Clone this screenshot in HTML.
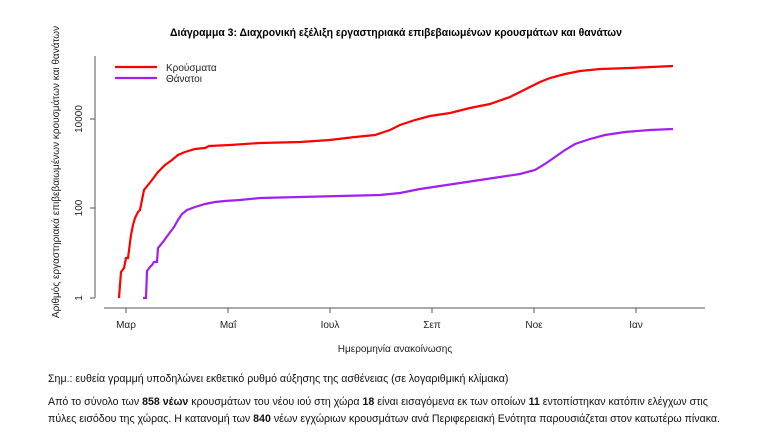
<!DOCTYPE html>
<html><head><meta charset="utf-8"><style>
body{margin:0;background:#fff;width:770px;height:433px;overflow:hidden;font-family:"Liberation Sans",sans-serif}
svg{position:absolute;left:0;top:0}
.n{position:absolute;left:48px;font-size:11px;color:#111;white-space:nowrap;transform-origin:0 0;transform:scaleX(0.965)}
</style></head><body>
<svg width="770" height="433" font-family="Liberation Sans, sans-serif">
<text x="396" y="36" text-anchor="middle" font-size="11" font-weight="bold" transform="translate(396 0) scale(0.95 1) translate(-396 0)">Διάγραμμα 3: Διαχρονική εξέλιξη εργαστηριακά επιβεβαιωμένων κρουσμάτων και θανάτων</text>
<g stroke="#555" fill="none">
<path d="M95 56V298M95 298h-5M95 208h-5M95 119h-5"/>
<path d="M104 308H705M126 308v5M228 308v5M330 308v5M432 308v5M534 308v5M636 308v5"/>
</g>
<g font-size="10" fill="#222" text-anchor="middle">
<text transform="translate(82 298) rotate(-90)">1</text>
<text transform="translate(82 208) rotate(-90)">100</text>
<text transform="translate(82 119) rotate(-90)">10000</text>
<text x="126" y="328">Μαρ</text><text x="228" y="328">Μαΐ</text><text x="330" y="328">Ιουλ</text>
<text x="432" y="328">Σεπ</text><text x="534" y="328">Νοε</text><text x="636" y="328">Ιαν</text>
<text x="395" y="352">Ημερομηνία ανακοίνωσης</text>
<text transform="translate(59 172) rotate(-90)">Αριθμός εργαστηριακά επιβεβαιωμένων κρουσμάτων και θανάτων</text>
</g>
<path d="M115 67H157" stroke="#f00" stroke-width="2.2"/>
<path d="M115 78H157" stroke="#a020f0" stroke-width="2.2"/>
<text x="166" y="71" font-size="10" fill="#222">Κρούσματα</text>
<text x="166" y="82" font-size="10" fill="#222">Θάνατοι</text>
<path fill="none" stroke="#f00" stroke-width="2.2" d="M119 298L121 272L124 268L126 258L128 258L131 235L133 225L135 218L138 212L140 210L142 200L144 190L148 185L152 180L158 172L165 165L172 160L178 155L185 152L195 149L205 148L209 146L230 145L260 143L300 142L330 140L355 137L375 135L390 130L400 125L415 120L430 116L450 113L470 108L490 104L510 97L520 92L530 87L540 82L550 78L565 74L580 71L600 69L630 68L673 66"/>
<path fill="none" stroke="#a020f0" stroke-width="2.2" d="M143 298L146 298L147 271L150 267L152 265L154 262L157 262L158 248L163 242L168 235L174 227L178 220L182 214L187 210L195 207L205 204L215 202L225 201L240 200L260 198L300 197L340 196L380 195L400 193L420 189L440 186L460 183L480 180L500 177L520 174L535 170L545 164L555 157L565 150L575 144L590 139L605 135L625 132L650 130L673 129"/>
</svg>
<div class="n" style="top:373px">Σημ.: ευθεία γραμμή υποδηλώνει εκθετικό ρυθμό αύξησης της ασθένειας (σε λογαριθμική κλίμακα)</div>
<div class="n" style="top:396px">Από το σύνολο των <b>858 νέων</b> κρουσμάτων του νέου ιού στη χώρα <b>18</b> είναι εισαγόμενα εκ των οποίων <b>11</b> εντοπίστηκαν κατόπιν ελέγχων στις</div>
<div class="n" style="top:413px">πύλες εισόδου της χώρας. Η κατανομή των <b>840</b> νέων εγχώριων κρουσμάτων ανά Περιφερειακή Ενότητα παρουσιάζεται στον κατωτέρω πίνακα.</div>
</body></html>
